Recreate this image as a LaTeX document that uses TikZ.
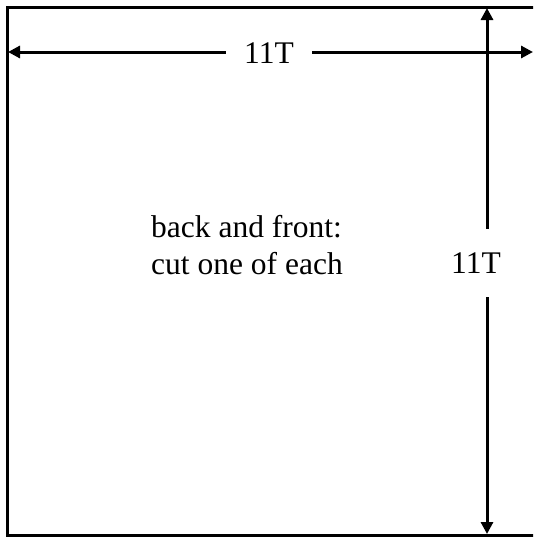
\documentclass[tikz,border=0pt]{standalone}
\usepackage{fontspec}
\setmainfont{Liberation Serif}
\usetikzlibrary{arrows.meta}
\usetikzlibrary{positioning}
\tikzstyle{edge} = [line width=3pt, line cap=rect]
\tikzstyle{dim} = [line width=3pt, -{Triangle[length=12pt,width=12pt]}]
\tikzstyle{lbl} = [font=\fontsize{31.5}{37}\selectfont, inner sep=0pt]

\begin{document}
\begin{tikzpicture}[x=1pt, y=-1pt]
 \clip (0,0) rectangle (533,538);

 % pattern outline, open to the right
 \coordinate (tr) at (545,7);
 \coordinate (tl) at (7,7);
 \coordinate (bl) at (7,535);
 \coordinate (br) at (545,535);
 \draw[edge] (tr) -- (tl) -- (bl) -- (br);

 % width
 \node (wlab) [lbl, minimum width=86pt, minimum height=30pt] at (269,53) {11T};
 \coordinate (wleft) at (8,52);
 \coordinate (wright) at (533,52);
 \draw[dim] (wlab.west |- wleft) -- (wleft);
 \draw[dim] (wlab.east |- wright) -- (wright);

 % height
 \node (hlab) [lbl, minimum width=50pt, minimum height=68pt] at (476,263) {11T};
 \coordinate (htop) at (487,8);
 \coordinate (hbot) at (487,534);
 \draw[dim] (hlab.north -| htop) -- (htop);
 \draw[dim] (hlab.south -| hbot) -- (hbot);

 \node (note) [lbl, align=left, anchor=west] at (151,245) {back and front:\\cut one of each};
\end{tikzpicture}
\end{document}
